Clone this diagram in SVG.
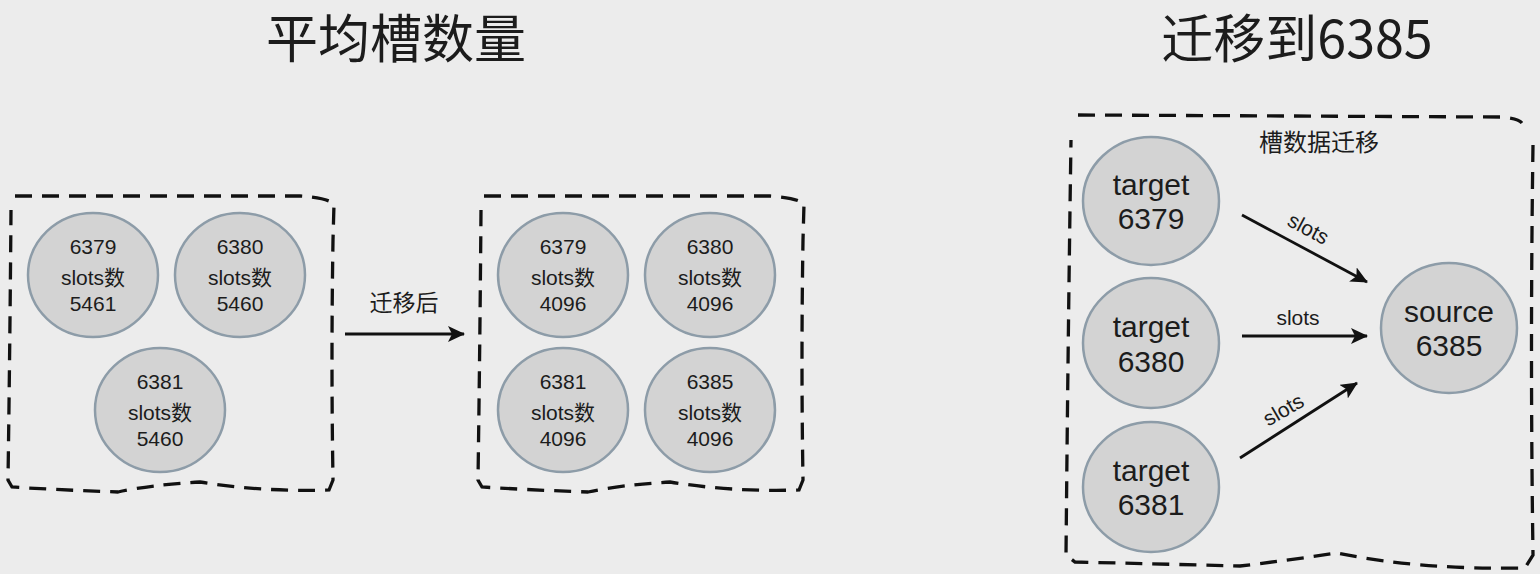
<svg xmlns="http://www.w3.org/2000/svg" width="1540" height="574" viewBox="0 0 1540 574">
<defs>
<marker id="ah" markerUnits="userSpaceOnUse" markerWidth="18" markerHeight="16" refX="16" refY="8" orient="auto">
<path d="M0,0 L17,8 L0,16 L4,8 Z" fill="#111"/>
</marker>
</defs>
<style>
.bg{fill:#ececec}
.box{fill:none;stroke:#111;stroke-width:3.3;stroke-dasharray:17 10;stroke-linecap:butt}
.node{fill:#d3d3d3;stroke:#8d9ca8;stroke-width:2.5}
.t{font-family:"Liberation Sans","Noto Sans CJK SC",sans-serif;fill:#1c1c1c;text-anchor:middle}
.s{font-size:21px}
.b{font-size:30px}
.title{font-family:"Noto Sans CJK SC",sans-serif;font-size:52px;fill:#1c1c1c;text-anchor:middle}
.cjk{font-family:"Noto Sans CJK SC",sans-serif;fill:#1c1c1c;text-anchor:middle}
.conn{fill:none;stroke:#111;stroke-width:2.8;marker-end:url(#ah)}
</style>
<rect class="bg" x="0" y="0" width="1540" height="574"/>

<text class="title" x="396" y="58">平均槽数量</text>
<text class="title" x="1297" y="58">迁移到6385</text>

<g id="boxes">
<path class="box" d="M15,196 L300,196 Q328,198 334,204 L333,240 Q331,360 333,480 L329,490 Q260,492 200,482 Q150,485 118,492 Q60,490 12,487 L8,480 Q10,340 11,210"/>
<path class="box" d="M484,196 L770,196 Q798,198 804,204 L803,240 Q801,360 803,480 L799,490 Q730,492 670,482 Q620,485 588,492 Q530,490 482,487 L478,480 Q480,340 481,210"/>
<path class="box" d="M1078,115 L1500,117 Q1518,118 1522,123 M1533,145 Q1530,350 1533,555 L1525,568 Q1420,570 1337,553 Q1290,560 1240,566 Q1160,564 1075,562 L1066,555 Q1068,340 1071,140"/>
</g>

<g id="n1-6379"><ellipse class="node" cx="93" cy="275" rx="65" ry="62"/>
<text class="t s" x="93" y="254">6379</text><text class="t s" x="93" y="285">slots数</text><text class="t s" x="93" y="311">5461</text></g>
<g id="n1-6380"><ellipse class="node" cx="240" cy="275" rx="65" ry="62"/>
<text class="t s" x="240" y="254">6380</text><text class="t s" x="240" y="285">slots数</text><text class="t s" x="240" y="311">5460</text></g>
<g id="n1-6381"><ellipse class="node" cx="160" cy="410" rx="65" ry="62"/>
<text class="t s" x="160" y="389">6381</text><text class="t s" x="160" y="420">slots数</text><text class="t s" x="160" y="446">5460</text></g>

<g id="n2-6379"><ellipse class="node" cx="563" cy="275" rx="65" ry="62"/>
<text class="t s" x="563" y="254">6379</text><text class="t s" x="563" y="285">slots数</text><text class="t s" x="563" y="311">4096</text></g>
<g id="n2-6380"><ellipse class="node" cx="710" cy="275" rx="65" ry="62"/>
<text class="t s" x="710" y="254">6380</text><text class="t s" x="710" y="285">slots数</text><text class="t s" x="710" y="311">4096</text></g>
<g id="n2-6381"><ellipse class="node" cx="563" cy="410" rx="65" ry="62"/>
<text class="t s" x="563" y="389">6381</text><text class="t s" x="563" y="420">slots数</text><text class="t s" x="563" y="446">4096</text></g>
<g id="n2-6385"><ellipse class="node" cx="710" cy="410" rx="65" ry="62"/>
<text class="t s" x="710" y="389">6385</text><text class="t s" x="710" y="420">slots数</text><text class="t s" x="710" y="446">4096</text></g>

<text class="cjk" x="1319" y="151" font-size="24">槽数据迁移</text>

<g id="t-6379"><ellipse class="node" cx="1151" cy="201" rx="68" ry="64"/>
<text class="t b" x="1151" y="195">target</text><text class="t b" x="1151" y="229">6379</text></g>
<g id="t-6380"><ellipse class="node" cx="1151" cy="343" rx="68" ry="65"/>
<text class="t b" x="1151" y="337">target</text><text class="t b" x="1151" y="372">6380</text></g>
<g id="t-6381"><ellipse class="node" cx="1151" cy="487" rx="68" ry="65"/>
<text class="t b" x="1151" y="481">target</text><text class="t b" x="1151" y="515">6381</text></g>
<g id="s-6385"><ellipse class="node" cx="1449" cy="328" rx="68" ry="65"/>
<text class="t b" x="1449" y="322">source</text><text class="t b" x="1449" y="356">6385</text></g>

<g id="connectors">
<line class="conn" x1="345" y1="334" x2="464" y2="334"/>
<line class="conn" x1="1242" y1="215" x2="1367" y2="282"/>
<line class="conn" x1="1242" y1="336" x2="1367" y2="336"/>
<line class="conn" x1="1240" y1="458" x2="1357" y2="383"/>
</g>
<text class="cjk" x="404" y="311" font-size="23">迁移后</text>
<text class="t" font-size="21" transform="translate(1305,235) rotate(28)">slots</text>
<text class="t" font-size="21" x="1298" y="325">slots</text>
<text class="t" font-size="21" transform="translate(1287,416) rotate(-30)">slots</text>
</svg>
